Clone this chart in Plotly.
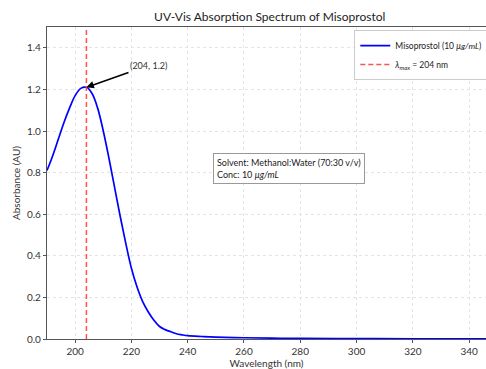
import plotly.graph_objects as go

wavelength = [190, 192, 194, 196, 198, 200, 202, 204, 206, 208, 210, 212, 214, 216, 218, 220,
              222, 224, 226, 228, 230, 232, 234, 236, 238, 240, 245, 250, 260, 270, 280, 300, 320, 350]
absorbance = [0.81, 0.88, 0.96, 1.04, 1.11, 1.17, 1.205, 1.21, 1.18, 1.11, 1.00, 0.87, 0.73, 0.59,
              0.46, 0.34, 0.25, 0.18, 0.13, 0.09, 0.06, 0.045, 0.035, 0.025, 0.02, 0.016, 0.012,
              0.009, 0.006, 0.004, 0.003, 0.002, 0.001, 0.001]
lambda_max = 204
peak_abs = 1.21
y_ticks = [0.0, 0.2, 0.4, 0.6, 0.8, 1.0, 1.2, 1.4]
x_ticks = [200, 220, 240, 260, 280, 300, 320, 340]

FONT = "Lato"

fig = go.Figure()
fig.add_trace(go.Scatter(
    x=wavelength, y=absorbance, mode="lines", line=dict(color="blue", width=1.7, shape="spline"),
    name="Misoprostol (10 <i>μg/mL</i>)"))
fig.add_trace(go.Scatter(
    x=[lambda_max, lambda_max], y=[0, 1.5], mode="lines",
    line=dict(color="#ff5050", width=1.5, dash="5px,3px"),
    name="<i>λ</i><sub><i>max</i></sub> = 204 nm"))

fig.add_annotation(
    x=lambda_max, y=peak_abs, ax=226, ay=1.315, xref="x", yref="y", axref="x", ayref="y",
    text="(204, 1.2)", showarrow=True, arrowhead=2, arrowsize=1, arrowwidth=1.5,
    arrowcolor="black", font=dict(size=9, color="#333", family=FONT))

fig.add_annotation(
    x=249, y=0.895, xref="x", yref="y", xanchor="left", yanchor="top", align="left",
    text="Solvent: Methanol:Water (70:30 v/v)<br>Conc: 10 <i>μg/mL</i>", showarrow=False,
    bordercolor="#999", borderwidth=1, borderpad=3, bgcolor="white",
    font=dict(size=9, color="#222", family=FONT))

fig.update_layout(
    width=486, height=369,
    margin=dict(l=47, r=0, t=27, b=30, autoexpand=False),
    paper_bgcolor="white", plot_bgcolor="white",
    title=dict(text="UV-Vis Absorption Spectrum of Misoprostol", x=0.555, xanchor="center",
               y=0.955, yanchor="middle", font=dict(size=12, color="#222", family=FONT)),
    font=dict(family=FONT, size=10, color="#333"),
    legend=dict(x=0.7, y=0.99, xanchor="left", yanchor="top", bgcolor="white",
                bordercolor="#ccc", borderwidth=1, font=dict(size=8.5, color="#222", family=FONT),
                tracegroupgap=0, itemwidth=30),
    xaxis=dict(range=[190, 346], tickvals=x_ticks, showgrid=True, gridcolor="#e4e4e4",
               griddash="dot", showline=True, linecolor="#555", linewidth=1.2, mirror=True,
               ticks="outside", ticklen=3, tickcolor="#555", zeroline=False, automargin=False,
               title=dict(text="Wavelength (nm)", standoff=2, font=dict(size=10, color="#333")),
               tickfont=dict(size=10, color="#333")),
    yaxis=dict(range=[0, 1.5], tickvals=y_ticks, tickformat=".1f", showgrid=True,
               gridcolor="#e4e4e4", griddash="dot", showline=True, linecolor="#555",
               linewidth=1.2, ticks="outside", ticklen=3, tickcolor="#555", zeroline=False,
               automargin=False,
               title=dict(text="Absorbance (AU)", standoff=4, font=dict(size=10, color="#333")),
               tickfont=dict(size=10, color="#333")),
)

fig.write_html("out.html", config={"displayModeBar": False},
               post_script="document.body.style.margin='0px';document.body.style.overflow='hidden';")
